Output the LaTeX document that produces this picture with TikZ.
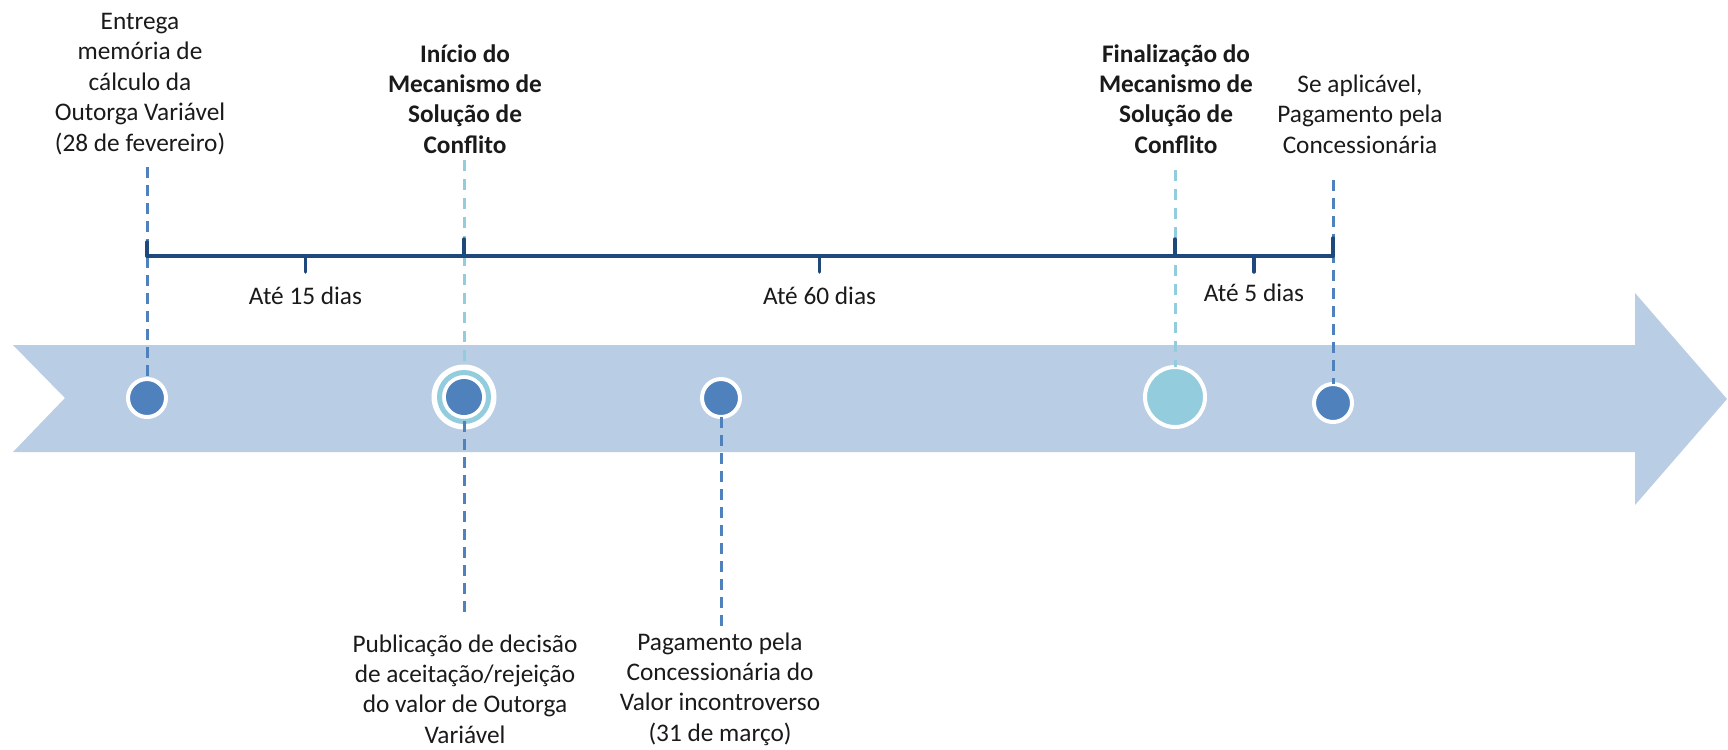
\documentclass[tikz,border=0pt]{standalone}
\usepackage{fontspec}
\setmainfont{Carlito}
\usetikzlibrary{positioning,calc}
\definecolor{band}{HTML}{B9CDE5}
\definecolor{dotblue}{HTML}{4F81BD}
\definecolor{lteal}{HTML}{93CDDD}
\definecolor{navy}{HTML}{1F497D}
\definecolor{txt}{HTML}{1A1A1A}
\begin{document}
\begin{tikzpicture}[x=0.1mm,y=-0.1mm,align=center,node distance=3.1mm,
	every node/.style={inner sep=0,outer sep=0,font=\fontsize{7.2}{8.65}\selectfont,text=txt},
	dot/.style={circle,fill=dotblue,draw=white,line width=0.4mm,minimum size=3.8mm},
	bigdot/.style={circle,fill=lteal,draw=white,line width=0.4mm,minimum size=6mm},
	darkdash/.style={dotblue,line width=0.3mm,dash pattern=on 1.1mm off 0.7mm},
	lightdash/.style={lteal,line width=0.3mm,dash pattern=on 1.1mm off 0.8mm},
	brace/.style={navy,line width=0.35mm,line join=round,line cap=round}]
	\useasboundingbox (0,0) rectangle (1728,749);
	% arrow
	\fill[band] (13,345) -- (1635,345) -- (1635,293) -- (1727,399) -- (1635,505) -- (1635,452) -- (13,452) -- (65,398) -- cycle;
	% dots
	\node (1) [dot] at (147,398) {};
	\node (2) [circle,fill=white,minimum size=6.5mm] at (464,397) {};
	\node (3) [dot] at (721,398) {};
	\node (4) [bigdot] at (1175,397) {};
	\node (5) [dot] at (1333,403) {};
	% labels
	\node (l1) at (140,84) {Entrega\\memória de\\cálculo da\\Outorga Variável\\(28 de fevereiro)};
	\node (l2) at (465,99) {\bfseries Início do\\\bfseries Mecanismo de\\\bfseries Solução de\\\bfseries Conflito};
	\node (l3) at (465,689) {Publicação de decisão\\de aceitação/rejeição\\do valor de Outorga\\Variável};
	\node (l4) at (720,689) {Pagamento pela\\Concessionária do\\Valor incontroverso\\(31 de março)};
	\node (l5) at (1176,99) {\bfseries Finalização do\\\bfseries Mecanismo de\\\bfseries Solução de\\\bfseries Conflito};
	\node (l6) at (1360,114) {Se aplicável,\\Pagamento pela\\Concessionária};
	% line ends
	\coordinate (c1) at (147,167);
	\coordinate (c2) at (464,160);
	\coordinate (c3) at (464,615);
	\coordinate (c4) at (721,627);
	\coordinate (c5) at (1175,170);
	\coordinate (c6) at (1333,180);
	\draw[darkdash] (c1) -- (1.north);
	\draw[lightdash] (c2) -- (2.north);
	\draw[lightdash] (c5) -- (4.north);
	\draw[darkdash] (c6) -- (5.north);
	% inner rings
	\node (2a) [circle,draw=lteal,line width=0.5mm,minimum size=4.9mm] at (2) {};
	\node (2b) [circle,fill=dotblue,minimum size=3.6mm] at (2) {};
	\draw[darkdash] ($(2)+(0,6)$) -- (c3);
	\draw[darkdash] (3.south) -- (c4);
	% periods
	\coordinate (br) at (0,256);
	\coordinate (m1) at ($(1|-br)!0.5!(2|-br)$);
	\coordinate (m2) at ($(2|-br)!0.5!(4|-br)$);
	\coordinate (m3) at ($(4|-br)!0.5!(5|-br)$);
	\draw[brace] (1|-br) -- (5|-br);
	\draw[brace] (1|-br) -- ++(0,-14) (2|-br) -- ++(0,-17) (4|-br) -- ++(0,-17) (5|-br) -- ++(0,-18);
	\draw[brace] (m1) -- ++(0,16) (m2) -- ++(0,16) (m3) -- ++(0,16);
	\node (d1) [below=of m1] {Até 15 dias};
	\node (d2) [below=of m2] {Até 60 dias};
	\node (d3) [below=2.8mm of m3] {Até 5 dias};
\end{tikzpicture}
\end{document}
